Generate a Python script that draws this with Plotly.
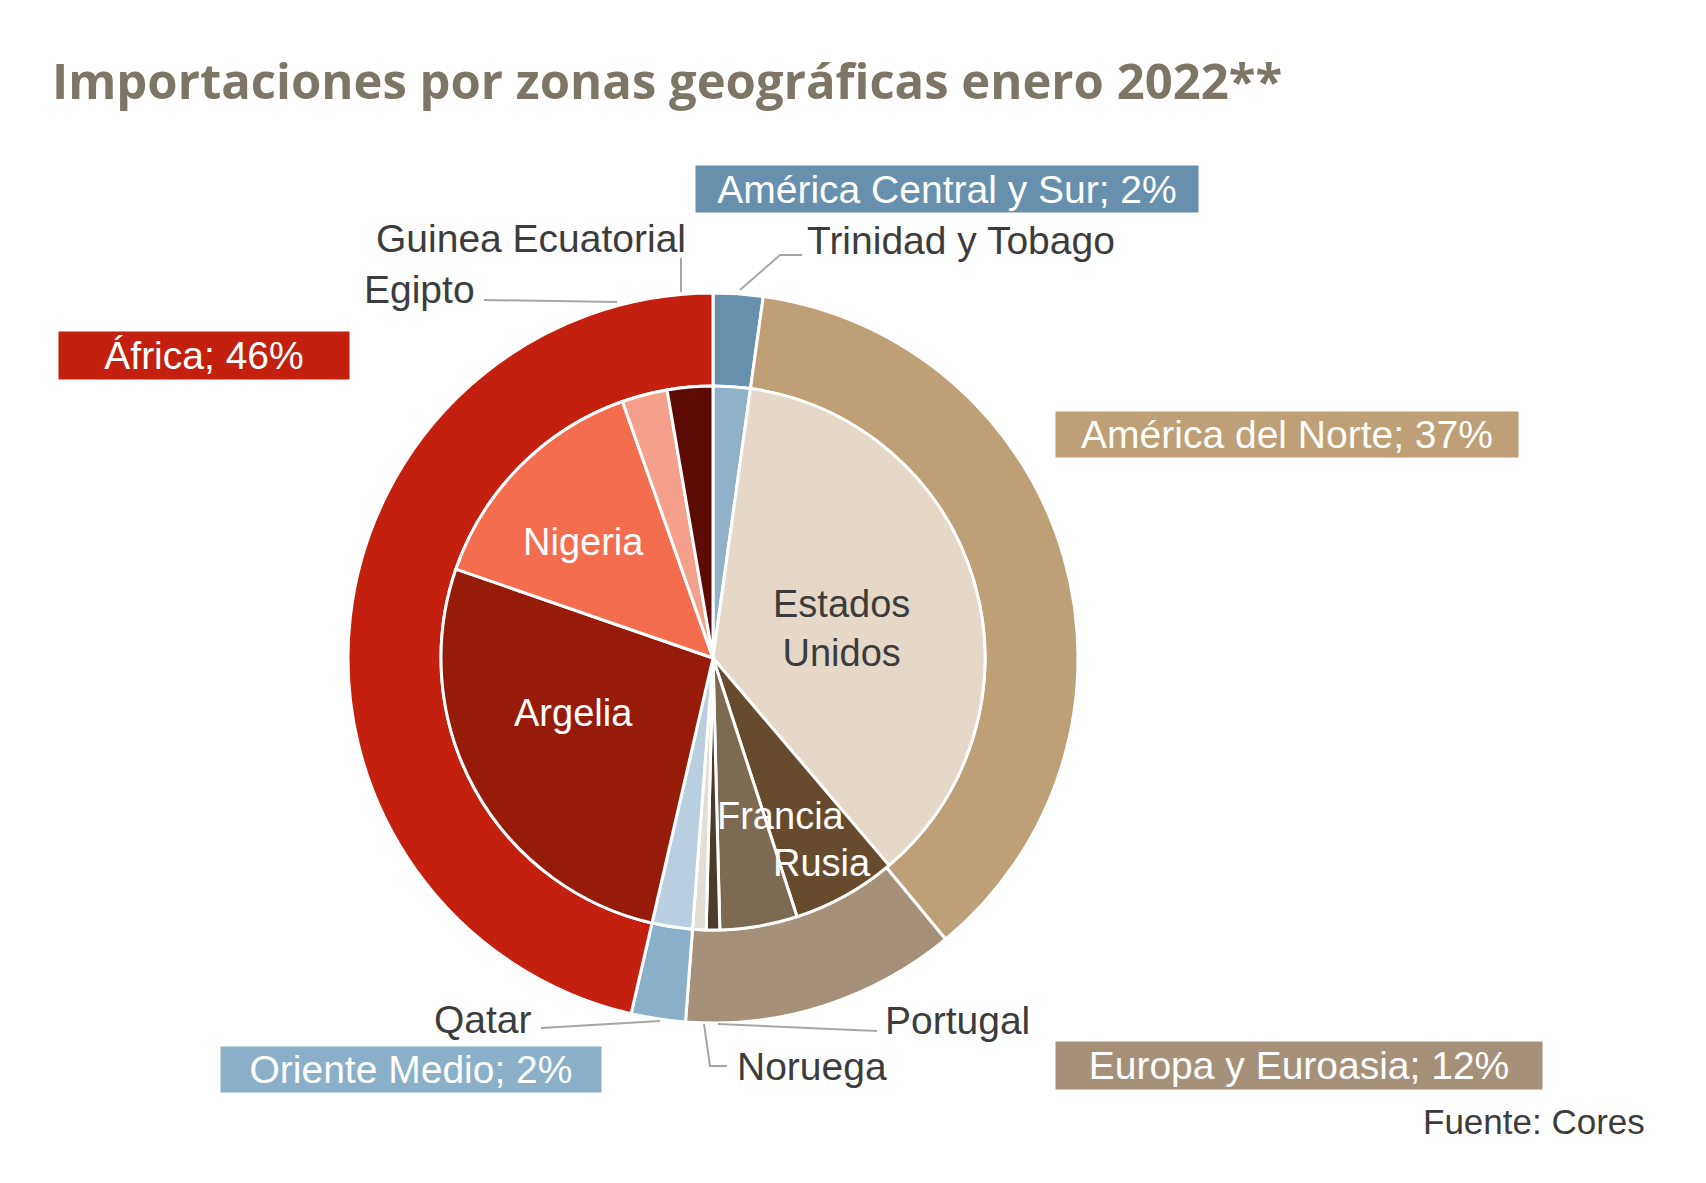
import plotly.graph_objects as go

# ---------------- data ----------------
zonas = ["América Central y Sur", "América del Norte", "Europa y Euroasia",
         "Oriente Medio", "África"]
zonas_pct = [2.2, 36.8, 12.2, 2.4, 46.4]
zonas_colores = ["#6690ae", "#bf9f76", "#a59179", "#8aafc8", "#c4200f"]

paises = ["Trinidad y Tobago", "Estados Unidos", "Rusia", "Francia", "Portugal",
          "Noruega", "Qatar", "Argelia", "Nigeria", "Egipto", "Guinea Ecuatorial"]
paises_pct = [2.2, 36.6, 6.2, 4.6, 0.8, 0.8, 2.4, 26.7, 14.3, 2.7, 2.7]
paises_colores = ["#8fb1c9", "#e5d8c8", "#664b2d", "#7d6a53", "#4d3c2c",
                  "#e2ddd5", "#b9cfdf", "#961b08", "#f46d4f", "#f5a08a", "#5c0c04"]

titulo = "Importaciones por zonas geográficas enero 2022**"
fuente = "Fuente: Cores"

# ---------------- layout helpers ----------------
W, H = 1706, 1183
def px(x):
    return x / W
def py(y):
    return 1 - y / H

CX, CY = 713, 658
R_OUT, R_IN = 365, 272

FONT = "Liberation Sans, Arial, sans-serif"

fig = go.Figure()

fig.add_trace(go.Pie(
    labels=zonas, values=zonas_pct, sort=False, direction="clockwise",
    rotation=0, hole=R_IN / R_OUT,
    marker=dict(colors=zonas_colores, line=dict(color="white", width=3)),
    textinfo="none", hoverinfo="label+percent", showlegend=False,
    domain=dict(x=[px(CX - R_OUT), px(CX + R_OUT)],
                y=[py(CY + R_OUT), py(CY - R_OUT)]),
))

fig.add_trace(go.Pie(
    labels=paises, values=paises_pct, sort=False, direction="clockwise",
    rotation=0,
    marker=dict(colors=paises_colores, line=dict(color="white", width=3)),
    textinfo="none", hoverinfo="label+percent", showlegend=False,
    domain=dict(x=[px(CX - R_IN), px(CX + R_IN)],
                y=[py(CY + R_IN), py(CY - R_IN)]),
))

annotations = []

# title
annotations.append(dict(
    text=titulo, x=px(50), y=py(80), xref="paper", yref="paper",
    xanchor="left", yanchor="middle", showarrow=False,
    font=dict(family="Open Sans, sans-serif", size=49, color="#7d7666",
              weight="bold"),
))

# zone label boxes (centre x, centre y, width, height)
box_geo = {
    "América Central y Sur": (947, 189, 502, 46),
    "América del Norte": (1287, 435, 462, 45),
    "Europa y Euroasia": (1299, 1065, 486, 47),
    "Oriente Medio": (411, 1069, 380, 45),
    "África": (204, 355, 290, 47),
}
for n, v, c in zip(zonas, zonas_pct, zonas_colores):
    bx, by, bw, bh = box_geo[n]
    annotations.append(dict(
        text=f"{n}; {round(v)}%", x=px(bx), y=py(by), xref="paper", yref="paper",
        xanchor="center", yanchor="middle", showarrow=False,
        width=bw, height=bh, bgcolor=c, borderpad=0, align="center",
        valign="middle",
        font=dict(family=FONT, size=39, color="white"),
    ))

# country labels: (text, x, y, anchor, color)
dark = "#3c3c3c"
country_lab = {
    "Trinidad y Tobago": ("Trinidad y Tobago", 805, 240, "left", dark),
    "Estados Unidos": ("Estados<br>Unidos", 841, 628, "center", dark),
    "Rusia": ("Rusia", 822, 863, "center", "white"),
    "Francia": ("Francia", 781, 816, "center", "white"),
    "Portugal": ("Portugal", 883, 1020, "left", dark),
    "Noruega": ("Noruega", 735, 1066, "left", dark),
    "Qatar": ("Qatar", 534, 1019, "right", dark),
    "Argelia": ("Argelia", 573, 713, "center", "white"),
    "Nigeria": ("Nigeria", 583, 542, "center", "white"),
    "Egipto": ("Egipto", 477, 289, "right", dark),
    "Guinea Ecuatorial": ("Guinea Ecuatorial", 688, 238, "right", dark),
}
inside = {"Rusia", "Francia", "Argelia", "Nigeria", "Estados Unidos"}
for n in paises:
    t, x, y, anc, col = country_lab[n]
    annotations.append(dict(
        text=t, x=px(x), y=py(y), xref="paper", yref="paper",
        xanchor=anc, yanchor="middle", showarrow=False,
        font=dict(family=FONT, size=38 if n in inside else 39, color=col),
        align="center",
    ))

annotations.append(dict(
    text=fuente, x=px(1647), y=py(1121), xref="paper", yref="paper",
    xanchor="right", yanchor="middle", showarrow=False,
    font=dict(family=FONT, size=35, color="#3c3c3c"),
))

# leader lines
leaders = [
    [(681, 258), (681, 292)],
    [(484, 300), (617, 302)],
    [(740, 290), (780, 255), (802, 255)],
    [(541, 1028), (660, 1021)],
    [(718, 1024), (877, 1031)],
    [(704, 1024), (710, 1066), (727, 1066)],
]
shapes = []
for pts in leaders:
    path = "M " + " L ".join(f"{px(a)},{py(b)}" for a, b in pts)
    shapes.append(dict(type="path", path=path, xref="paper", yref="paper",
                       line=dict(color="#a6a6a6", width=2)))

fig.update_layout(
    width=W, height=H, margin=dict(l=0, r=0, t=0, b=0),
    paper_bgcolor="white", plot_bgcolor="white",
    annotations=annotations, shapes=shapes,
)

fig.write_html("out.html")
